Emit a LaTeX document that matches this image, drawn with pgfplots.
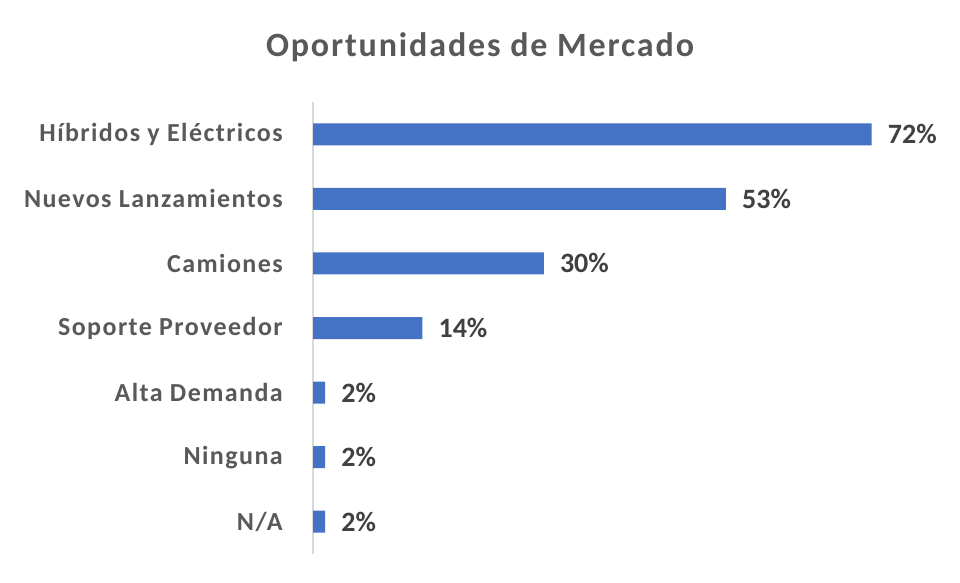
\documentclass[border=0pt]{standalone}
\usepackage{pgfplots}
\pgfplotsset{compat=1.18}
\usepackage{fontspec}
\setmainfont{Carlito}
\newfontfamily\spaced[LetterSpace=5.5]{Carlito}
\definecolor{barblue}{HTML}{4472C4}
\definecolor{titlegray}{HTML}{595959}
\definecolor{valgray}{HTML}{404040}
\definecolor{axgray}{HTML}{D9D9D9}
\begin{document}
\begin{tikzpicture}
\path[use as bounding box, fill=white] (0,0) rectangle (720pt,436.5pt);
\node[anchor=base, text=titlegray, font=\spaced\fontsize{25.5pt}{30pt}\selectfont\bfseries, inner sep=0pt] at (360pt,393.75pt) {Oportunidades de Mercado};
\begin{axis}[
  at={(234.75pt,21pt)}, anchor=south west,
  scale only axis,
  width=466.4pt, height=339pt,
  xbar, bar width=16.5pt,
  xmin=0, xmax=80,
  ymin=-0.5, ymax=6.5, y dir=reverse,
  ytick={0,1,2,3,4,5,6},
  yticklabels={Híbridos y Eléctricos, Nuevos Lanzamientos, Camiones, Soporte Proveedor, Alta Demanda, Ninguna, N/A},
  hide x axis,
  axis y line*=left,
  y axis line style={draw=axgray, line width=1pt},
  major tick length=0pt,
  ytick style={draw=none},
  yticklabel style={anchor=east, inner sep=0pt, xshift=-22.5pt, text=titlegray, font=\spaced\fontsize{19.5pt}{23pt}\selectfont\bfseries},
  point meta=x,
  nodes near coords={\pgfmathprintnumber[fixed,precision=0]{\pgfplotspointmeta}\%},
  /pgf/number format/assume math mode=true,
  every node near coord/.append style={anchor=west, inner sep=0pt, xshift=12pt, text=valgray, font=\fontsize{21pt}{25pt}\selectfont\bfseries},
]
\addplot[fill=barblue, draw=none] coordinates {
  (71.875,0) (53.125,1) (29.6875,2) (14.0625,3) (1.5625,4) (1.5625,5) (1.5625,6)
};
\end{axis}
\end{tikzpicture}
\end{document}
